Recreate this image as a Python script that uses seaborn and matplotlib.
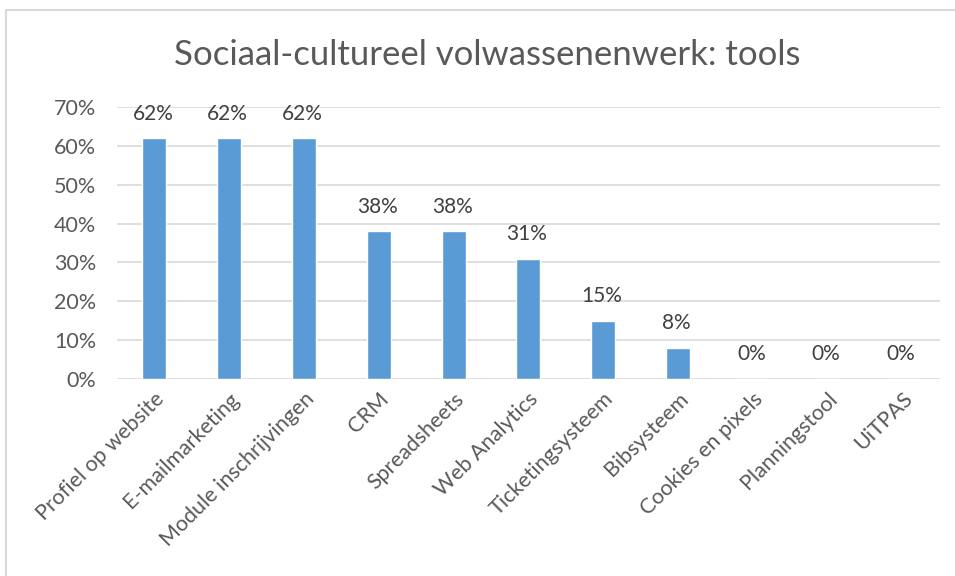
import matplotlib
matplotlib.use("Agg")
import matplotlib.pyplot as plt
from matplotlib.patches import Rectangle
from matplotlib.ticker import MultipleLocator, FuncFormatter
import seaborn as sns
import pandas as pd

categories = ["Profiel op website", "E-mailmarketing", "Module inschrijvingen", "CRM",
              "Spreadsheets", "Web Analytics", "Ticketingsysteem", "Bibsysteem",
              "Cookies en pixels", "Planningstool", "UiTPAS"]
values = [62, 62, 62, 38, 38, 31, 15, 8, 0, 0, 0]
title = "Sociaal-cultureel volwassenenwerk: tools"

sns.set_theme(style="white")
plt.rcParams["font.family"] = ["Lato", "DejaVu Sans"]

df = pd.DataFrame({"tool": categories, "pct": values})

fig = plt.figure(figsize=(9.55, 5.76), dpi=100)
ax = fig.add_axes([0.1225, 0.342, 0.8615, 0.472])

sns.barplot(data=df, x="tool", y="pct", color="#5B9BD5", saturation=1,
            width=0.32, ax=ax, zorder=3)

ax.set_ylim(0, 70)
ax.yaxis.set_major_locator(MultipleLocator(10))
ax.yaxis.set_major_formatter(FuncFormatter(lambda v, p: f"{v:.0f}%"))
ax.grid(axis="y", color="#D9D9D9", linewidth=1.2, zorder=0)
ax.set_xlim(-0.5, len(categories) - 0.5)
for s in ax.spines.values():
    s.set_visible(False)
ax.set_xlabel("")
ax.set_ylabel("")
ax.tick_params(axis="y", length=0, pad=15, labelsize=15.5, labelcolor="#595959")
ax.tick_params(axis="x", length=0, pad=7, labelsize=15.5, labelcolor="#595959")
plt.setp(ax.get_xticklabels(), rotation=45, ha="right", rotation_mode="anchor")

for i, v in enumerate(values):
    ax.annotate(f"{v}%", (i, v), xytext=(-1, 10.5), textcoords="offset points",
                ha="center", va="bottom", fontsize=15, color="#404040")

fig.text(0.51, 0.905, title, ha="center", va="center", fontsize=25, color="#595959")

fig.add_artist(Rectangle((0.0063, -0.05), 1.1, 0.9826 + 0.05, transform=fig.transFigure,
                         fill=False, edgecolor="#D9D9D9", linewidth=1.5))

fig.savefig("out.png", dpi=100)
